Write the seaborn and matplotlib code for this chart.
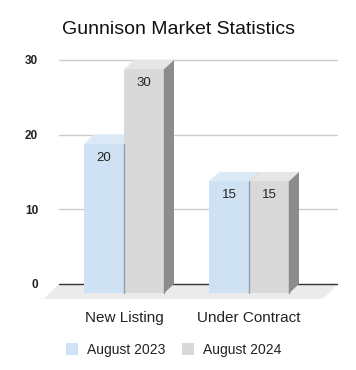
import matplotlib

matplotlib.use("Agg")
import matplotlib.pyplot as plt
import numpy as np
import pandas as pd
import seaborn as sns
from matplotlib.colors import to_hex
from matplotlib.patches import Patch, Polygon


TITLE = "Gunnison Market Statistics"
CATEGORIES = ["New Listing", "Under Contract"]
SERIES = ["August 2023", "August 2024"]
AUG_2023 = [20, 15]
AUG_2024 = [30, 15]
Y_TICKS = [0, 10, 20, 30]

FRONT = {"August 2023": "#cfe2f3", "August 2024": "#d9d9d9"}
TOP = {"August 2023": "#dce9f6", "August 2024": "#e6e6e6"}
SIDE = {"August 2023": "#8e9fb0", "August 2024": "#8c8c8c"}

# depth of the fake 3D effect, in data units
DX = 0.08
DY = 1.25
XLIM = (-0.6, 1.632)
YLIM = (-2.0, 31.0)


def main() -> None:
    sns.set_theme(style="white")
    plt.rcParams["font.family"] = ["Liberation Sans", "DejaVu Sans"]

    df = pd.DataFrame(
        {
            "category": CATEGORIES * 2,
            "series": [SERIES[0]] * 2 + [SERIES[1]] * 2,
            "value": AUG_2023 + AUG_2024,
        }
    )

    fig = plt.figure(figsize=(3.56, 3.70), dpi=100)
    ax = fig.add_axes([59 / 356, 1 - 298.9 / 370, 279 / 356, 246.4 / 370])

    sns.barplot(
        data=df,
        x="category",
        y="value",
        hue="series",
        hue_order=SERIES,
        palette=FRONT,
        width=0.64,
        gap=0,
        saturation=1,
        legend=False,
        ax=ax,
    )
    ax.set_xlim(*XLIM)
    ax.set_ylim(*YLIM)

    bars = sorted(ax.patches, key=lambda p: p.get_x())
    series_of = {
        id(p): SERIES[0] if to_hex(p.get_facecolor()) == FRONT[SERIES[0]] else SERIES[1]
        for p in bars
    }

    # floor and grid
    ax.add_patch(Polygon(
        [(XLIM[0], 0), (XLIM[1], 0), (XLIM[1] - 0.12, YLIM[0]), (XLIM[0] - 0.12, YLIM[0])],
        closed=True, facecolor="#ebebeb", edgecolor="none", zorder=0.5, clip_on=False,
    ))
    for t in Y_TICKS[1:]:
        ax.axhline(t, color="#cccccc", lw=1, zorder=0.6)
    ax.axhline(0, color="#333333", lw=1, zorder=0.7)

    z = 2
    for p in bars:
        series = series_of[id(p)]
        x, w, h = p.get_x(), p.get_width(), p.get_height()
        p.set_x(x - DX)
        p.set_y(-DY)
        p.set_zorder(z)
        p.set_edgecolor("none")
        top = Polygon(
            [(x - DX, h - DY), (x + w - DX, h - DY), (x + w, h), (x, h)],
            closed=True, facecolor=TOP[series], edgecolor="none", zorder=z,
        )
        side = Polygon(
            [(x + w - DX, -DY), (x + w, 0), (x + w, h), (x + w - DX, h - DY)],
            closed=True, facecolor=SIDE[series], edgecolor="none", zorder=z,
        )
        ax.add_patch(top)
        ax.add_patch(side)
        # thin edge where the bar's side meets the next bar's front
        ax.plot([x + w - DX] * 2, [-DY, h - DY], color=SIDE[series], lw=1, zorder=z + 1.2)
        ax.annotate(
            f"{h:g}", (x - DX + w / 2, h - DY), xytext=(0, -10),
            textcoords="offset points", ha="center", va="center",
            fontsize=9.5, color="#222222", zorder=z + 0.5,
        )
        z += 1

    ax.set_xticks(np.arange(len(CATEGORIES)) - DX)
    ax.set_xticklabels(CATEGORIES, fontsize=11, color="#222222")
    ax.set_yticks(Y_TICKS)
    ax.set_yticklabels([str(t) for t in Y_TICKS], fontsize=8.5, fontweight="bold", color="#222222")
    ax.tick_params(axis="x", length=0, pad=9)
    ax.tick_params(axis="y", length=0, pad=15)
    ax.set_xlabel("")
    ax.set_ylabel("")
    sns.despine(ax=ax, left=True, bottom=True)

    fig.text(0.501, 1 - 30 / 370, TITLE, ha="center", va="center", fontsize=14, color="#111111")

    handles = [Patch(facecolor=FRONT[s], edgecolor="none") for s in SERIES]
    fig.legend(
        handles, SERIES, loc="center", bbox_to_anchor=(0.487, 1 - 350 / 370),
        ncol=2, frameon=False, fontsize=10, handlelength=0.9, handleheight=0.9,
        handletextpad=0.6, columnspacing=1.2, labelcolor="#222222",
    )

    fig.savefig("out.png", dpi=100)
    plt.close(fig)


if __name__ == "__main__":
    main()
